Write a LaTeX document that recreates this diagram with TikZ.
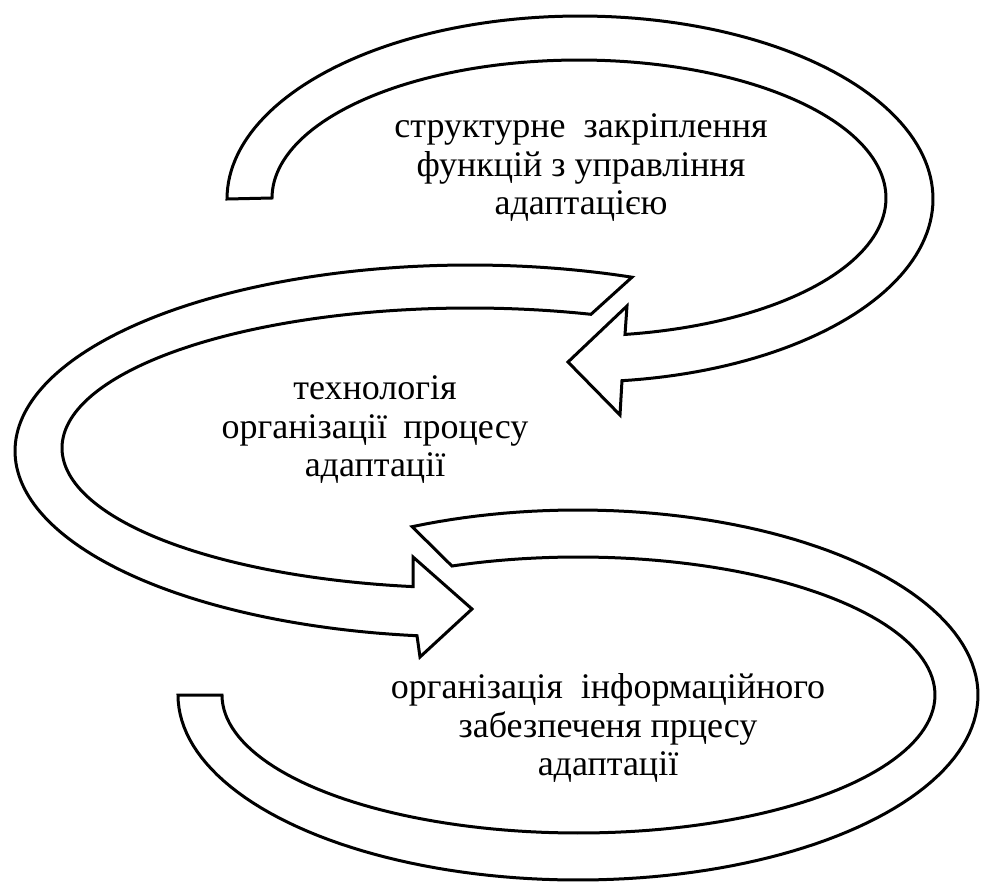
\documentclass[tikz,border=0pt]{standalone}
\usepackage{fontspec}
\setmainfont{Liberation Serif}
\begin{document}
\begin{tikzpicture}[x=1pt,y=-1pt,
  arrowshape/.style={draw=black, fill=white, line width=3pt, line join=miter},
  txt/.style={font=\fontsize{36}{38.5}\selectfont, align=center, inner sep=0pt}]
\useasboundingbox (0,0) rectangle (986,883);
% arrow A (top)
\draw[arrowshape] plot[domain=180:443.17, samples=150] ({580+353*cos(\x)},{199+183*sin(\x)})
  -- (620,415) -- (568,362) -- (627,306)
  -- plot[domain=441.38:180, samples=150] ({579+307*cos(\x)},{198+138*sin(\x)}) -- cycle;
% arrow B (middle)
\draw[arrowshape] plot[domain=290.86:96.69, samples=150] ({470+455*cos(\x)},{451+186*sin(\x)})
  -- (420,657) -- (472,609) -- (413,557)
  -- plot[domain=98.03:287.25, samples=150] ({470+408*cos(\x)},{448+140*sin(\x)}) -- cycle;
% arrow C (bottom)
\draw[arrowshape] plot[domain=245.5:540, samples=150] ({578+400*cos(\x)},{695+185*sin(\x)})
  -- plot[domain=540:249.2, samples=150] ({578.5+356.5*cos(\x)},{695+138*sin(\x)}) -- cycle;
\node[txt] (tA) at (581,168) {структурне\hspace{0.25em} закріплення\\функцій з управління\\адаптацією};
\node[txt] (tB) at (375,430) {технологія\\організації\hspace{0.2em} процесу\\адаптації};
\node[txt] (tC) at (608,728) {організація\hspace{0.25em} інформаційного\\забезпеченя прцесу\\адаптації};
\end{tikzpicture}
\end{document}
